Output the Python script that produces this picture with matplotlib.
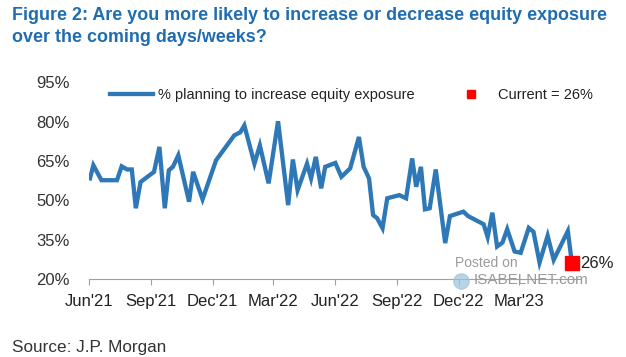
import numpy as np
import pandas as pd
import matplotlib
matplotlib.use('Agg')
import matplotlib.pyplot as plt
import matplotlib.dates as mdates
from matplotlib.lines import Line2D

# survey readings (weekly-ish turning points)
dates = ['2021-06-02', '2021-06-07', '2021-06-19', '2021-07-12', '2021-07-19',
         '2021-07-27', '2021-08-03', '2021-08-09', '2021-08-16', '2021-09-05',
         '2021-09-13', '2021-09-21', '2021-09-27', '2021-10-03', '2021-10-11',
         '2021-10-27', '2021-11-02', '2021-11-16', '2021-12-06', '2022-01-02',
         '2022-01-11', '2022-01-17', '2022-02-01', '2022-02-09', '2022-02-22',
         '2022-03-08', '2022-03-23', '2022-03-30', '2022-04-06', '2022-04-20',
         '2022-04-26', '2022-05-03', '2022-05-11', '2022-05-17', '2022-06-01',
         '2022-06-10', '2022-06-23', '2022-07-06', '2022-07-13', '2022-07-21',
         '2022-07-27', '2022-08-02', '2022-08-10', '2022-08-17', '2022-09-04',
         '2022-09-14', '2022-09-23', '2022-09-29', '2022-10-06', '2022-10-12',
         '2022-10-19', '2022-10-28', '2022-11-11', '2022-11-18', '2022-12-08',
         '2022-12-15', '2023-01-07', '2023-01-13', '2023-01-20', '2023-01-27',
         '2023-02-04', '2023-02-11', '2023-02-22', '2023-03-03', '2023-03-15',
         '2023-03-22', '2023-03-31', '2023-04-12', '2023-04-21', '2023-05-12',
         '2023-05-18']
pct_increase = [58.4, 63.4, 57.7, 57.7, 63.0,
                61.8, 61.8, 47.0, 57.0, 60.9,
                70.4, 47.0, 61.5, 62.8, 67.2,
                49.5, 60.9, 50.4, 65.3, 74.8,
                76.0, 78.6, 64.0, 71.0, 56.5,
                80.2, 48.2, 65.6, 53.9, 64.0,
                58.4, 66.6, 54.6, 62.8, 64.3,
                59.0, 62.2, 74.2, 62.8, 58.4,
                44.4, 43.2, 39.4, 50.8, 52.0,
                50.8, 66.0, 55.2, 62.8, 46.6,
                47.0, 61.8, 33.7, 44.0, 45.7,
                44.0, 40.9, 36.0, 45.3, 32.4,
                33.9, 39.0, 30.5, 30.0, 39.5,
                38.0, 26.3, 36.5, 27.3, 38.3,
                26.0]
current = 26
yticks = [20, 35, 50, 65, 80, 95]

plt.rcParams['font.family'] = ['Liberation Sans', 'DejaVu Sans']

blue = '#2E78B7'
dt = pd.to_datetime(dates)

fig = plt.figure(figsize=(6.26, 3.57), dpi=100)
ax = fig.add_axes([0.1427, 0.2185, 0.7838, 0.5505])

ax.plot(dt, pct_increase, color=blue, lw=3.1, solid_joinstyle='miter', zorder=3)
ax.plot(dt[-1], current, marker='s', ms=9.5, color='#FF0000', ls='none',
        clip_on=False, zorder=4)
ax.annotate(f'{current}%', (dt[-1], current), xytext=(6, 0), textcoords='offset points',
            va='center', ha='left', fontsize=12, color='#222222', annotation_clip=False)

ax.set_ylim(20, 95)
ax.set_yticks(yticks)
ax.set_yticklabels([f'{v}%' for v in yticks])
ax.set_xlim(pd.Timestamp('2021-06-01'), pd.Timestamp('2023-05-30'))
ax.xaxis.set_major_locator(mdates.MonthLocator(bymonth=[3, 6, 9, 12]))
ax.xaxis.set_major_formatter(mdates.DateFormatter("%b'%y"))

for s in ['top', 'right', 'left']:
  ax.spines[s].set_visible(False)
ax.spines['bottom'].set_color('#A0A0A0')
ax.spines['bottom'].set_linewidth(0.8)
ax.tick_params(axis='x', direction='out', length=4, width=0.8, color='#A0A0A0',
               labelsize=12, labelcolor='#222222', pad=7)
ax.tick_params(axis='y', length=0, labelsize=12, labelcolor='#333333', pad=14)

handles = [Line2D([], [], color=blue, lw=3.1),
           Line2D([], [], color='#FF0000', marker='s', ms=6, ls='none')]
labels = ['% planning to increase equity exposure', f'Current = {current}%']
fig.legend(handles, labels, loc='center left', bbox_to_anchor=(0.1757, 0.734),
           bbox_transform=fig.transFigure, ncol=2, frameon=False, fontsize=10.5,
           borderpad=0, borderaxespad=0, handlelength=2.95, handletextpad=0.34,
           columnspacing=2.4, labelcolor='#222222')

fig.text(0.019, 0.979, 'Figure 2: Are you more likely to increase or decrease equity exposure\n'
         'over the coming days/weeks?', ha='left', va='top', fontsize=12.9,
         fontweight='bold', color='#1F6DB0', linespacing=1.38)
fig.text(0.019, 0.028, 'Source: J.P. Morgan', ha='left', va='center', fontsize=12.3,
         color='#333333')

# watermark
fig.text(0.727, 0.263, 'Posted on', ha='left', va='center', fontsize=10, color='#9A9A9A')
fig.text(0.757, 0.215, 'ISABELNET.com', ha='left', va='center', fontsize=11, color='#9A9A9A')
fig.add_artist(Line2D([0.737], [0.213], marker='o', ms=11, color='#9CC3DE', alpha=0.7,
                      transform=fig.transFigure))

fig.savefig('out.png', dpi=100)
